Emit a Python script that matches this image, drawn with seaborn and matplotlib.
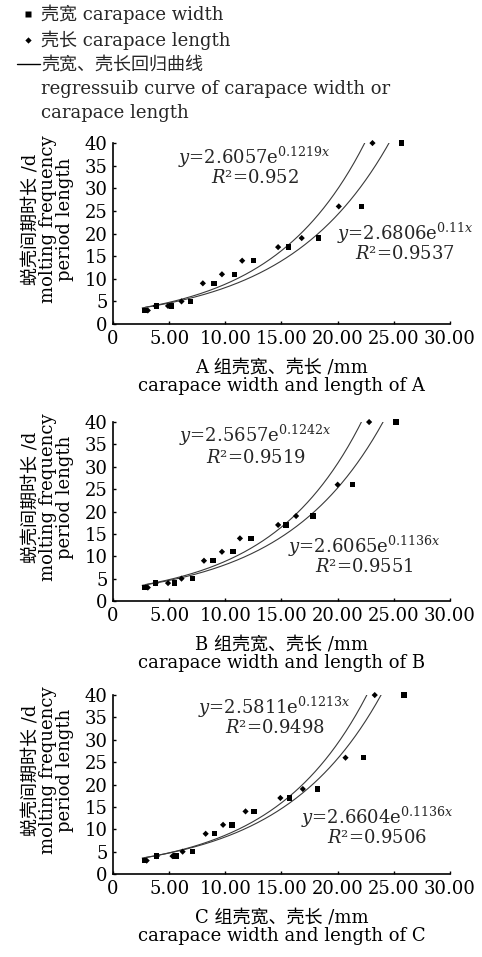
import numpy as np
import matplotlib
matplotlib.use("Agg")
import matplotlib.pyplot as plt
from matplotlib.lines import Line2D
import pandas as pd
import seaborn as sns

# ------------------ DATA ------------------
groups = ["A", "B", "C"]
period_days = [3, 4, 4, 5, 9, 11, 14, 17, 19, 26, 40]

length_A = [3.1, 3.8, 4.9, 6.1, 8.0, 9.7, 11.5, 14.7, 16.8, 20.1, 23.1]
width_A = [2.8, 3.9, 5.2, 6.9, 9.0, 10.8, 12.5, 15.6, 18.3, 22.1, 25.7]
length_B = [3.1, 3.8, 4.9, 6.1, 8.1, 9.7, 11.3, 14.7, 16.3, 20.0, 22.8]
width_B = [2.8, 3.8, 5.5, 7.1, 8.9, 10.7, 12.3, 15.4, 17.8, 21.3, 25.2]
length_C = [3.0, 3.9, 5.3, 6.2, 8.25, 9.8, 11.8, 14.9, 16.9, 20.7, 23.3]
width_C = [2.8, 3.9, 5.6, 7.1, 9.05, 10.6, 12.55, 15.7, 18.2, 22.3, 25.9]

# exponential fits y = a * exp(b x), as printed on the chart
len_a = ["2.6057", "2.5657", "2.5811"]
len_b = ["0.1219", "0.1242", "0.1213"]
len_r2 = ["0.952", "0.9519", "0.9498"]
wid_a = ["2.6806", "2.6065", "2.6604"]
wid_b = ["0.11", "0.1136", "0.1136"]
wid_r2 = ["0.9537", "0.9551", "0.9506"]

x_ticks = [0, 5, 10, 15, 20, 25, 30]
x_ticklabels = ["0", "5.00", "10.00", "15.00", "20.00", "25.00", "30.00"]
y_ticks = [0, 5, 10, 15, 20, 25, 30, 35, 40]

# ------------------ LAYOUT ------------------
# annotation anchors in data units: (x, y line1, y line2)
eq_len_pos = [(12.6, 36.8, 32.2), (12.7, 37.1, 32.0), (14.4, 37.3, 32.6)]
eq_wid_pos = [(26.0, 20.0, 15.4), (22.4, 12.1, 7.6), (23.5, 12.7, 8.0)]
panel_rects = [[0.2344, 0.6614, 0.6992, 0.1891],
               [0.2344, 0.3720, 0.6992, 0.1870],
               [0.2344, 0.0867, 0.6992, 0.1870]]

sns.set_theme(style="ticks")
plt.rcParams["font.family"] = ["DejaVu Serif", "Noto Sans CJK SC"]
plt.rcParams["mathtext.fontset"] = "dejavuserif"
plt.rcParams["font.size"] = 13
plt.rcParams["axes.unicode_minus"] = False

FS = 13
curve_color = "#3a3a3a"

df = pd.DataFrame({
    "group": np.repeat(groups, len(period_days)),
    "period": period_days * 3,
    "length": length_A + length_B + length_C,
    "width": width_A + width_B + width_C,
})

fig = plt.figure(figsize=(4.82, 9.57), dpi=100)

for i, g in enumerate(groups):
    ax = fig.add_axes(panel_rects[i])
    d = df[df["group"] == g]

    # regression curves
    for a, b, xs in [(len_a[i], len_b[i], d["length"]), (wid_a[i], wid_b[i], d["width"])]:
        xc = np.linspace(xs.min() - 0.2, 30, 300)
        yc = float(a) * np.exp(float(b) * xc)
        sns.lineplot(x=xc, y=yc, ax=ax, color=curve_color, lw=0.8, sort=False)

    sns.scatterplot(data=d, x="length", y="period", ax=ax, marker="D", s=10,
                    color="black", edgecolor="none", clip_on=False, zorder=3)
    sns.scatterplot(data=d, x="width", y="period", ax=ax, marker="s", s=15,
                    color="black", edgecolor="none", clip_on=False, zorder=3)

    ax.set_xlim(0, 30)
    ax.set_ylim(0, 40)
    ax.set_xticks(x_ticks)
    ax.set_xticklabels(x_ticklabels)
    ax.set_yticks(y_ticks)
    ax.tick_params(direction="in", length=2.5, width=1, colors="black",
                   labelsize=FS, pad=4)
    for sp in ["left", "bottom"]:
        ax.spines[sp].set_color("black")
        ax.spines[sp].set_linewidth(1.2)
    sns.despine(ax=ax)

    ax.set_xlabel(f"{g} 组壳宽、壳长 /mm\ncarapace width and length of {g}",
                  fontsize=FS, color="black", linespacing=1.0, labelpad=8)
    ax.set_ylabel("蜕壳间期时长 /d\nmolting frequency\nperiod length",
                  fontsize=FS, color="black", linespacing=0.95)
    ax.yaxis.set_label_coords(-0.115, 0.58)

    x, y1, y2 = eq_len_pos[i]
    ax.text(x, y1, "$y$=%s" % len_a[i] + "e$^{%s x}$" % len_b[i],
            ha="center", va="center", fontsize=FS)
    ax.text(x, y2, "$R$²=%s" % len_r2[i], ha="center", va="center", fontsize=FS)
    x, y1, y2 = eq_wid_pos[i]
    ax.text(x, y1, "$y$=%s" % wid_a[i] + "e$^{%s x}$" % wid_b[i],
            ha="center", va="center", fontsize=FS)
    ax.text(x, y2, "$R$²=%s" % wid_r2[i], ha="center", va="center", fontsize=FS)

# ------------------ TOP LEGEND ------------------
handles = [
    Line2D([], [], ls="", marker="s", ms=3.8, color="black", mec="none"),
    Line2D([], [], ls="", marker="D", ms=3.2, color="black", mec="none"),
    Line2D([], [], color="black", lw=1),
    Line2D([], [], ls="", marker=""),
    Line2D([], [], ls="", marker=""),
]
labels = ["壳宽 carapace width", "壳长 carapace length", "壳宽、壳长回归曲线",
          "regressuib curve of carapace width or", "carapace length"]
fig.legend(handles, labels, loc="upper left", bbox_to_anchor=(17 / 482, 1 - 5 / 957),
           frameon=False, borderpad=0, borderaxespad=0, handlelength=1.25,
           handletextpad=0.1, labelspacing=0.33, fontsize=FS)

fig.savefig("out.png", dpi=100)
